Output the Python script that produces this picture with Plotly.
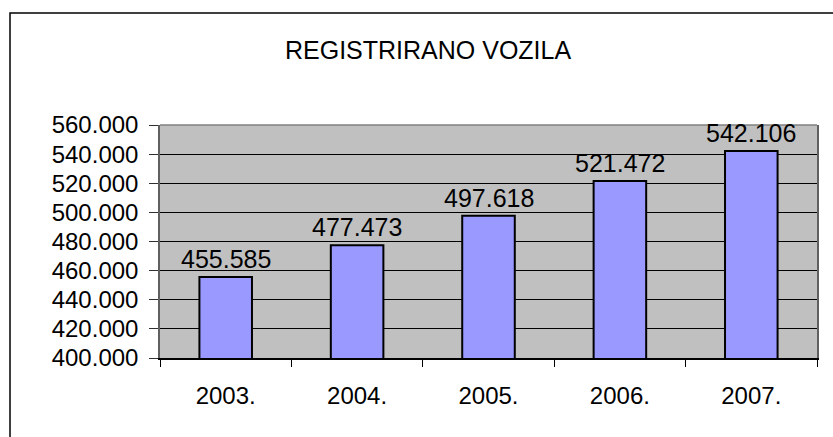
import plotly.graph_objects as go

# Registered vehicles per year
years = ["2003.", "2004.", "2005.", "2006.", "2007."]
vehicles = [455585, 477473, 497618, 521472, 542106]
y_ticks = [400000, 420000, 440000, 460000, 480000, 500000, 520000, 540000, 560000]

FONT = "Liberation Sans, Arial, sans-serif"

fig = go.Figure()
fig.add_trace(go.Bar(
    x=years,
    y=vehicles,
    width=0.4,
    marker=dict(color="#9999FF", line=dict(color="black", width=2)),
    showlegend=False,
    hoverinfo="skip",
))

# Value labels above each bar (category index keeps the strings from being read as numbers)
for i, v in enumerate(vehicles):
    fig.add_annotation(
        x=i, y=v, text=f"{v:,}".replace(",", "."),
        showarrow=False, yanchor="bottom", yshift=2,
        font=dict(family=FONT, size=25, color="black"),
    )

fig.update_layout(
    width=833, height=437, autosize=False,
    margin=dict(l=160, r=16, t=125, b=79),
    paper_bgcolor="white",
    plot_bgcolor="#C0C0C0",
    separators=",.",
    title=dict(
        text="REGISTRIRANO VOZILA",
        x=0.408, xanchor="center", xref="paper",
        y=0.884, yanchor="middle", yref="container",
        font=dict(family=FONT, size=25, color="black"),
    ),
    font=dict(family=FONT, color="black"),
)

fig.update_xaxes(
    type="category",
    categoryorder="array", categoryarray=years,
    range=[-0.5, len(years) - 0.5],
    showline=True, linecolor="black", linewidth=1.5,
    ticks="outside", ticklen=7, tickcolor="black", tickwidth=1,
    tickson="boundaries",
    tickangle=0,
    tickfont=dict(family=FONT, size=24, color="black"),
    ticklabelstandoff=15,
    showgrid=False,
    automargin=False,
)
fig.update_yaxes(
    range=[400000, 560000],
    tickvals=y_ticks,
    tickformat=",",
    showline=True, linecolor="#606060", linewidth=1.5, mirror=True,
    ticks="outside", ticklen=9, tickcolor="#303030", tickwidth=1,
    tickfont=dict(family=FONT, size=24, color="black"),
    ticklabelstandoff=6,
    showgrid=True, gridcolor="black", gridwidth=1,
    zeroline=False,
    automargin=False,
)

# Grey top edge of the plot area
fig.add_shape(type="line", xref="paper", yref="paper",
              x0=0, x1=1, y0=1, y1=1,
              line=dict(color="#808080", width=1.5), layer="above")

# Chart frame
fig.add_shape(type="rect", xref="paper", yref="paper",
              x0=-0.2283, x1=1.05, y0=-0.4, y1=1.4807,
              line=dict(color="black", width=1.5), fillcolor="rgba(0,0,0,0)",
              layer="above")

fig.write_html("out.html")
